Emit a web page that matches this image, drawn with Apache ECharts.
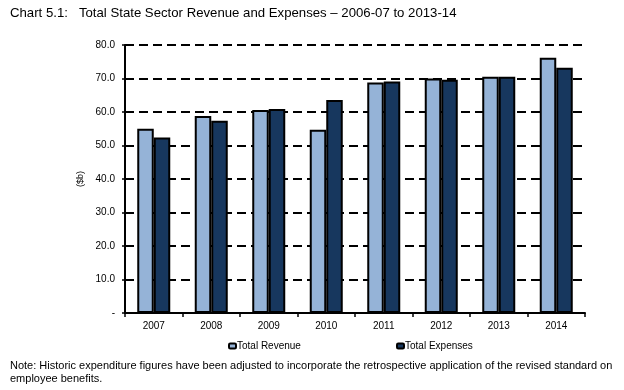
<!DOCTYPE html>
<html><head><meta charset="utf-8">
<script src="https://cdn.jsdelivr.net/npm/echarts@6/dist/echarts.min.js"></script>
<style>html,body{margin:0;padding:0;background:#fff}#c{width:624px;height:390px}</style>
</head><body><div id="c"></div>
<script>
const categories = ['2007','2008','2009','2010','2011','2012','2013','2014'];
const revenue = [55.0, 58.8, 60.6, 54.7, 68.8, 70.0, 70.5, 76.2];
const expenses = [52.4, 57.4, 60.9, 63.6, 69.1, 69.6, 70.5, 73.2];
const seriesNames = ['Total Revenue', 'Total Expenses'];
const titleText = 'Chart 5.1:   Total State Sector Revenue and Expenses \u2013 2006-07 to 2013-14';
const noteText = 'Note: Historic expenditure figures have been adjusted to incorporate the retrospective application of the revised standard on\nemployee benefits.';
const FONT = '"Liberation Sans", Arial, sans-serif';

const chart = echarts.init(document.getElementById('c'));
chart.setOption({
  animation: false,
  textStyle: {fontFamily: FONT},
  title: [
    {text: titleText, left: 10, top: 7, padding: 0, textStyle: {fontFamily: FONT, fontSize: 13.2, fontWeight: 'normal', color: '#000'}},
    {text: noteText, left: 10, top: 360, padding: 0, textStyle: {fontFamily: FONT, fontSize: 11, fontWeight: 'normal', color: '#000', lineHeight: 12.5}}
  ],
  legend: [
    {data: [seriesNames[0]], left: 228, top: 341, padding: 0, itemWidth: 7, itemHeight: 5, itemGap: 0,
     textStyle: {fontFamily: FONT, fontSize: 10, color: '#000', padding: [0,0,0,-4]}},
    {data: [seriesNames[1]], left: 396, top: 341, padding: 0, itemWidth: 7, itemHeight: 5, itemGap: 0,
     textStyle: {fontFamily: FONT, fontSize: 10, color: '#000', padding: [0,0,0,-4]}}
  ],
  grid: {left: 125, right: 39, top: 45, bottom: 77},
  xAxis: {
    type: 'category', data: categories,
    axisLine: {lineStyle: {color: '#000', width: 2}},
    axisTick: {show: true, length: 4, lineStyle: {color: '#000', width: 1.5}},
    axisLabel: {color: '#000', fontSize: 10, fontFamily: FONT, margin: 8}
  },
  yAxis: {
    type: 'value', min: 0, max: 80, interval: 10,
    name: '($b)', nameLocation: 'middle', nameGap: 32, nameRotate: 90,
    nameTextStyle: {color: '#000', fontSize: 9, fontFamily: FONT},
    axisLine: {show: true, lineStyle: {color: '#000', width: 2}},
    axisTick: {show: true, length: 3, lineStyle: {color: '#000', width: 1.5}},
    axisLabel: {color: '#000', fontSize: 10, fontFamily: FONT, margin: 10,
      formatter: v => v === 0 ? '-' : v.toFixed(1)},
    splitLine: {lineStyle: {color: '#000', width: 2, type: [9, 5]}}
  },
  series: [
    {name: seriesNames[0], type: 'bar', data: revenue, barWidth: 16.5, barGap: '0%',
     itemStyle: {color: '#95B3D7', borderColor: '#000', borderWidth: 2}},
    {name: seriesNames[1], type: 'bar', data: expenses, barWidth: 16.5,
     itemStyle: {color: '#17375E', borderColor: '#000', borderWidth: 2}}
  ]
});
</script></body></html>
